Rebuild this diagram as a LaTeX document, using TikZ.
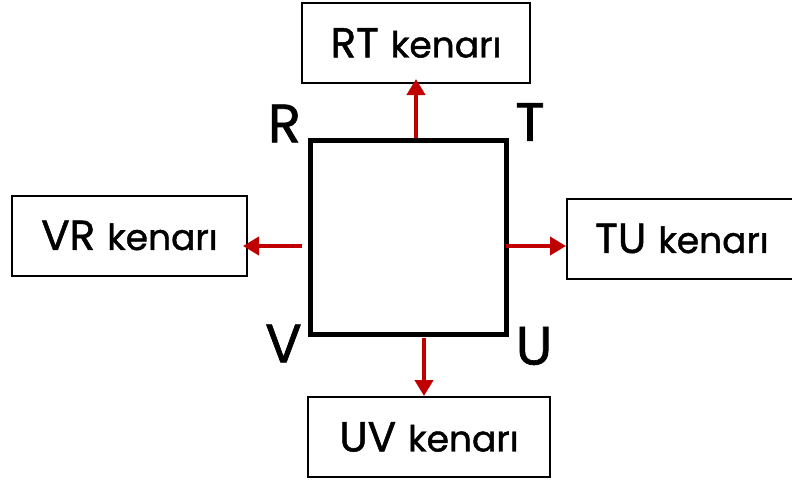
\documentclass[tikz,border=0pt]{standalone}
\usepackage{fontspec}
\setmainfont{Poppins}[FakeBold=1.2,AutoFakeBold=1.2]
\usetikzlibrary{arrows.meta}
\definecolor{arrred}{HTML}{C00000}
\newcommand\lab[2]{{\fontsize{42}{42}\selectfont\bfseries #1}\hspace{12pt}{\fontsize{36}{36}\selectfont\bfseries #2}}
\tikzset{
  box/.style={draw=black, line width=2pt, rectangle, minimum width=#1, minimum height=80pt, inner sep=0pt},
  corner/.style={inner sep=0pt, font=\fontsize{54}{54}\selectfont\bfseries},
  sq/.style={draw=black, line width=5pt, rectangle, minimum width=196pt, minimum height=194pt, inner sep=0pt},
  arr/.style={draw=arrred, line width=4pt, -{Triangle[length=16pt,width=18pt]}}
}
\begin{document}
\begin{tikzpicture}[x=1pt,y=-1pt]
\useasboundingbox (0,0) rectangle (792,482);
\node[sq] (s) at (408,237) {};
\node[box=228pt] (rt) at (416,43) {\lab{RT}{kenarı}};
\node[box=235pt] (vr) at (129.5,235.5) {\lab{VR}{kenarı}};
\node[box=240pt] (tu) at (687,238.5) {\hspace{-10pt}\lab{TU}{kenarı}};
\node[box=242pt] (uv) at (429,437) {\lab{UV}{kenarı}};
\node[corner] (R) at (284.5,123.5) {R};
\node[corner] (T) at (530,122) {T};
\node[corner] (V) at (283.5,343.5) {V};
\node[corner] (U) at (534,346) {U};
\coordinate (a1) at (416,138);
\coordinate (a2) at (302,246);
\coordinate (a3) at (506,246);
\coordinate (a4) at (424,338);
\draw[arr, shorten >=-5pt] (a1) -- (a1 |- rt.south);
\draw[arr, shorten >=-5pt] (a2) -- (a2 -| vr.east);
\draw[arr] (a3) -- (a3 -| tu.west);
\draw[arr] (a4) -- (a4 |- uv.north);
\end{tikzpicture}
\end{document}
